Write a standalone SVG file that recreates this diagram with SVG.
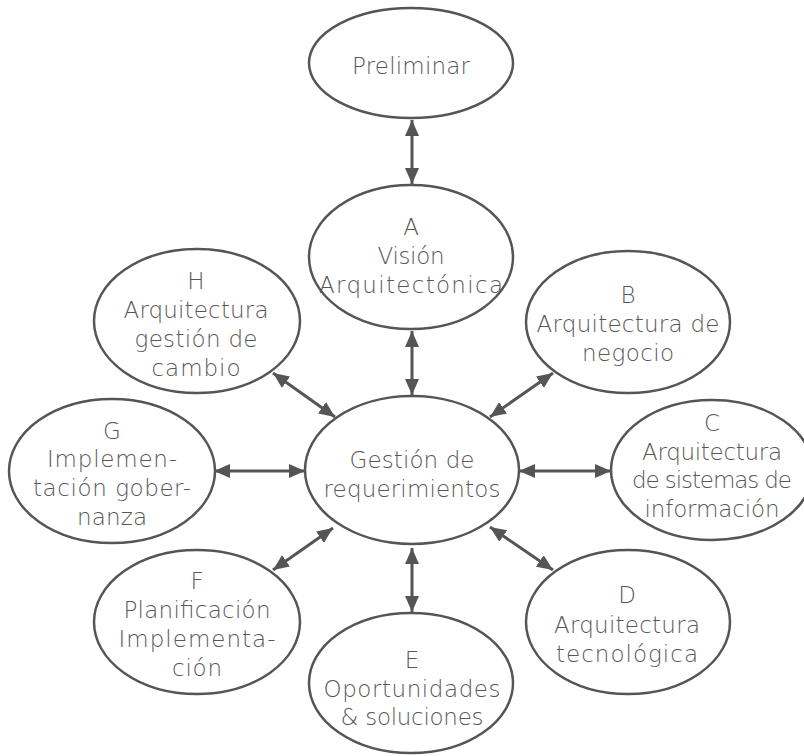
<svg xmlns="http://www.w3.org/2000/svg" width="804" height="756" viewBox="0 0 804 756">
  <style>
    .node ellipse { fill: #ffffff; stroke: #555555; stroke-width: 2.5; }
    .node text { font-family: "DejaVu Sans", "Liberation Sans", sans-serif; font-size: 23px; font-weight: 300; fill: #575757; text-anchor: middle; }
    .conn line { stroke: #555555; stroke-width: 3; marker-start: url(#arrow); marker-end: url(#arrow); }
  </style>
  <defs>
    <marker id="arrow" markerUnits="userSpaceOnUse" markerWidth="16" markerHeight="14" refX="16" refY="7" orient="auto-start-reverse" viewBox="0 0 16 14">
      <path d="M0,0 L16,7 L0,14 Z" fill="#555555"/>
    </marker>
  </defs>
  <rect x="0" y="0" width="804" height="756" fill="#ffffff"/>

  <g id="connectors" class="conn">
    <line x1="412" y1="120" x2="412" y2="184"/>
    <line x1="412" y1="331" x2="412" y2="395"/>
    <line x1="273" y1="373" x2="335" y2="417"/>
    <line x1="553" y1="373" x2="490" y2="417"/>
    <line x1="214" y1="471" x2="305" y2="471"/>
    <line x1="519" y1="471" x2="611" y2="471"/>
    <line x1="273" y1="570" x2="333" y2="528"/>
    <line x1="553" y1="570" x2="490" y2="527"/>
    <line x1="412" y1="548" x2="412" y2="612"/>
  </g>

  <g id="preliminar" class="node">
    <ellipse cx="411" cy="63" rx="102" ry="55"/>
    <text x="411" y="74" textLength="118" lengthAdjust="spacing">Preliminar</text>
  </g>

  <g id="a" class="node">
    <ellipse cx="411" cy="257" rx="102" ry="72"/>
    <text x="411" y="235">A</text>
    <text x="411" y="264" textLength="67" lengthAdjust="spacing">Visión</text>
    <text x="411" y="293" textLength="184" lengthAdjust="spacing">Arquitectónica</text>
  </g>

  <g id="centro" class="node">
    <ellipse cx="412" cy="470" rx="107" ry="74"/>
    <text x="412" y="468" textLength="125" lengthAdjust="spacing">Gestión de</text>
    <text x="412" y="497" textLength="177" lengthAdjust="spacing">requerimientos</text>
  </g>

  <g id="b" class="node">
    <ellipse cx="628" cy="322" rx="102" ry="71"/>
    <text x="628" y="303">B</text>
    <text x="628" y="332" textLength="183" lengthAdjust="spacing">Arquitectura de</text>
    <text x="628" y="361" textLength="92" lengthAdjust="spacing">negocio</text>
  </g>

  <g id="c" class="node">
    <ellipse cx="712" cy="470" rx="101" ry="70"/>
    <text x="712" y="431">C</text>
    <text x="712" y="460" textLength="140" lengthAdjust="spacing">Arquitectura</text>
    <text x="712" y="488" textLength="160" lengthAdjust="spacing">de sistemas de</text>
    <text x="712" y="517" textLength="135" lengthAdjust="spacing">información</text>
  </g>

  <g id="d" class="node">
    <ellipse cx="628" cy="622" rx="102" ry="72"/>
    <text x="627" y="603">D</text>
    <text x="627" y="633" textLength="146" lengthAdjust="spacing">Arquitectura</text>
    <text x="627" y="662" textLength="142" lengthAdjust="spacing">tecnológica</text>
  </g>

  <g id="e" class="node">
    <ellipse cx="411" cy="683" rx="102" ry="70"/>
    <text x="412" y="668">E</text>
    <text x="412" y="697" textLength="177" lengthAdjust="spacing">Oportunidades</text>
    <text x="412" y="725" textLength="143" lengthAdjust="spacing">&amp; soluciones</text>
  </g>

  <g id="f" class="node">
    <ellipse cx="197" cy="622" rx="103" ry="72"/>
    <text x="197" y="589">F</text>
    <text x="197" y="618" textLength="147" lengthAdjust="spacing">Planificación</text>
    <text x="197" y="647" textLength="157" lengthAdjust="spacing">Implementa-</text>
    <text x="197" y="676" textLength="50" lengthAdjust="spacing">ción</text>
  </g>

  <g id="g" class="node">
    <ellipse cx="112" cy="471" rx="103" ry="72"/>
    <text x="112" y="439">G</text>
    <text x="112" y="467" textLength="130" lengthAdjust="spacing">Implemen-</text>
    <text x="112" y="496" textLength="158" lengthAdjust="spacing">tación gober-</text>
    <text x="112" y="525" textLength="70" lengthAdjust="spacing">nanza</text>
  </g>

  <g id="h" class="node">
    <ellipse cx="197" cy="321" rx="103" ry="72"/>
    <text x="196" y="289">H</text>
    <text x="196" y="318" textLength="145" lengthAdjust="spacing">Arquitectura</text>
    <text x="196" y="347" textLength="123" lengthAdjust="spacing">gestión de</text>
    <text x="196" y="376" textLength="89" lengthAdjust="spacing">cambio</text>
  </g>
</svg>
